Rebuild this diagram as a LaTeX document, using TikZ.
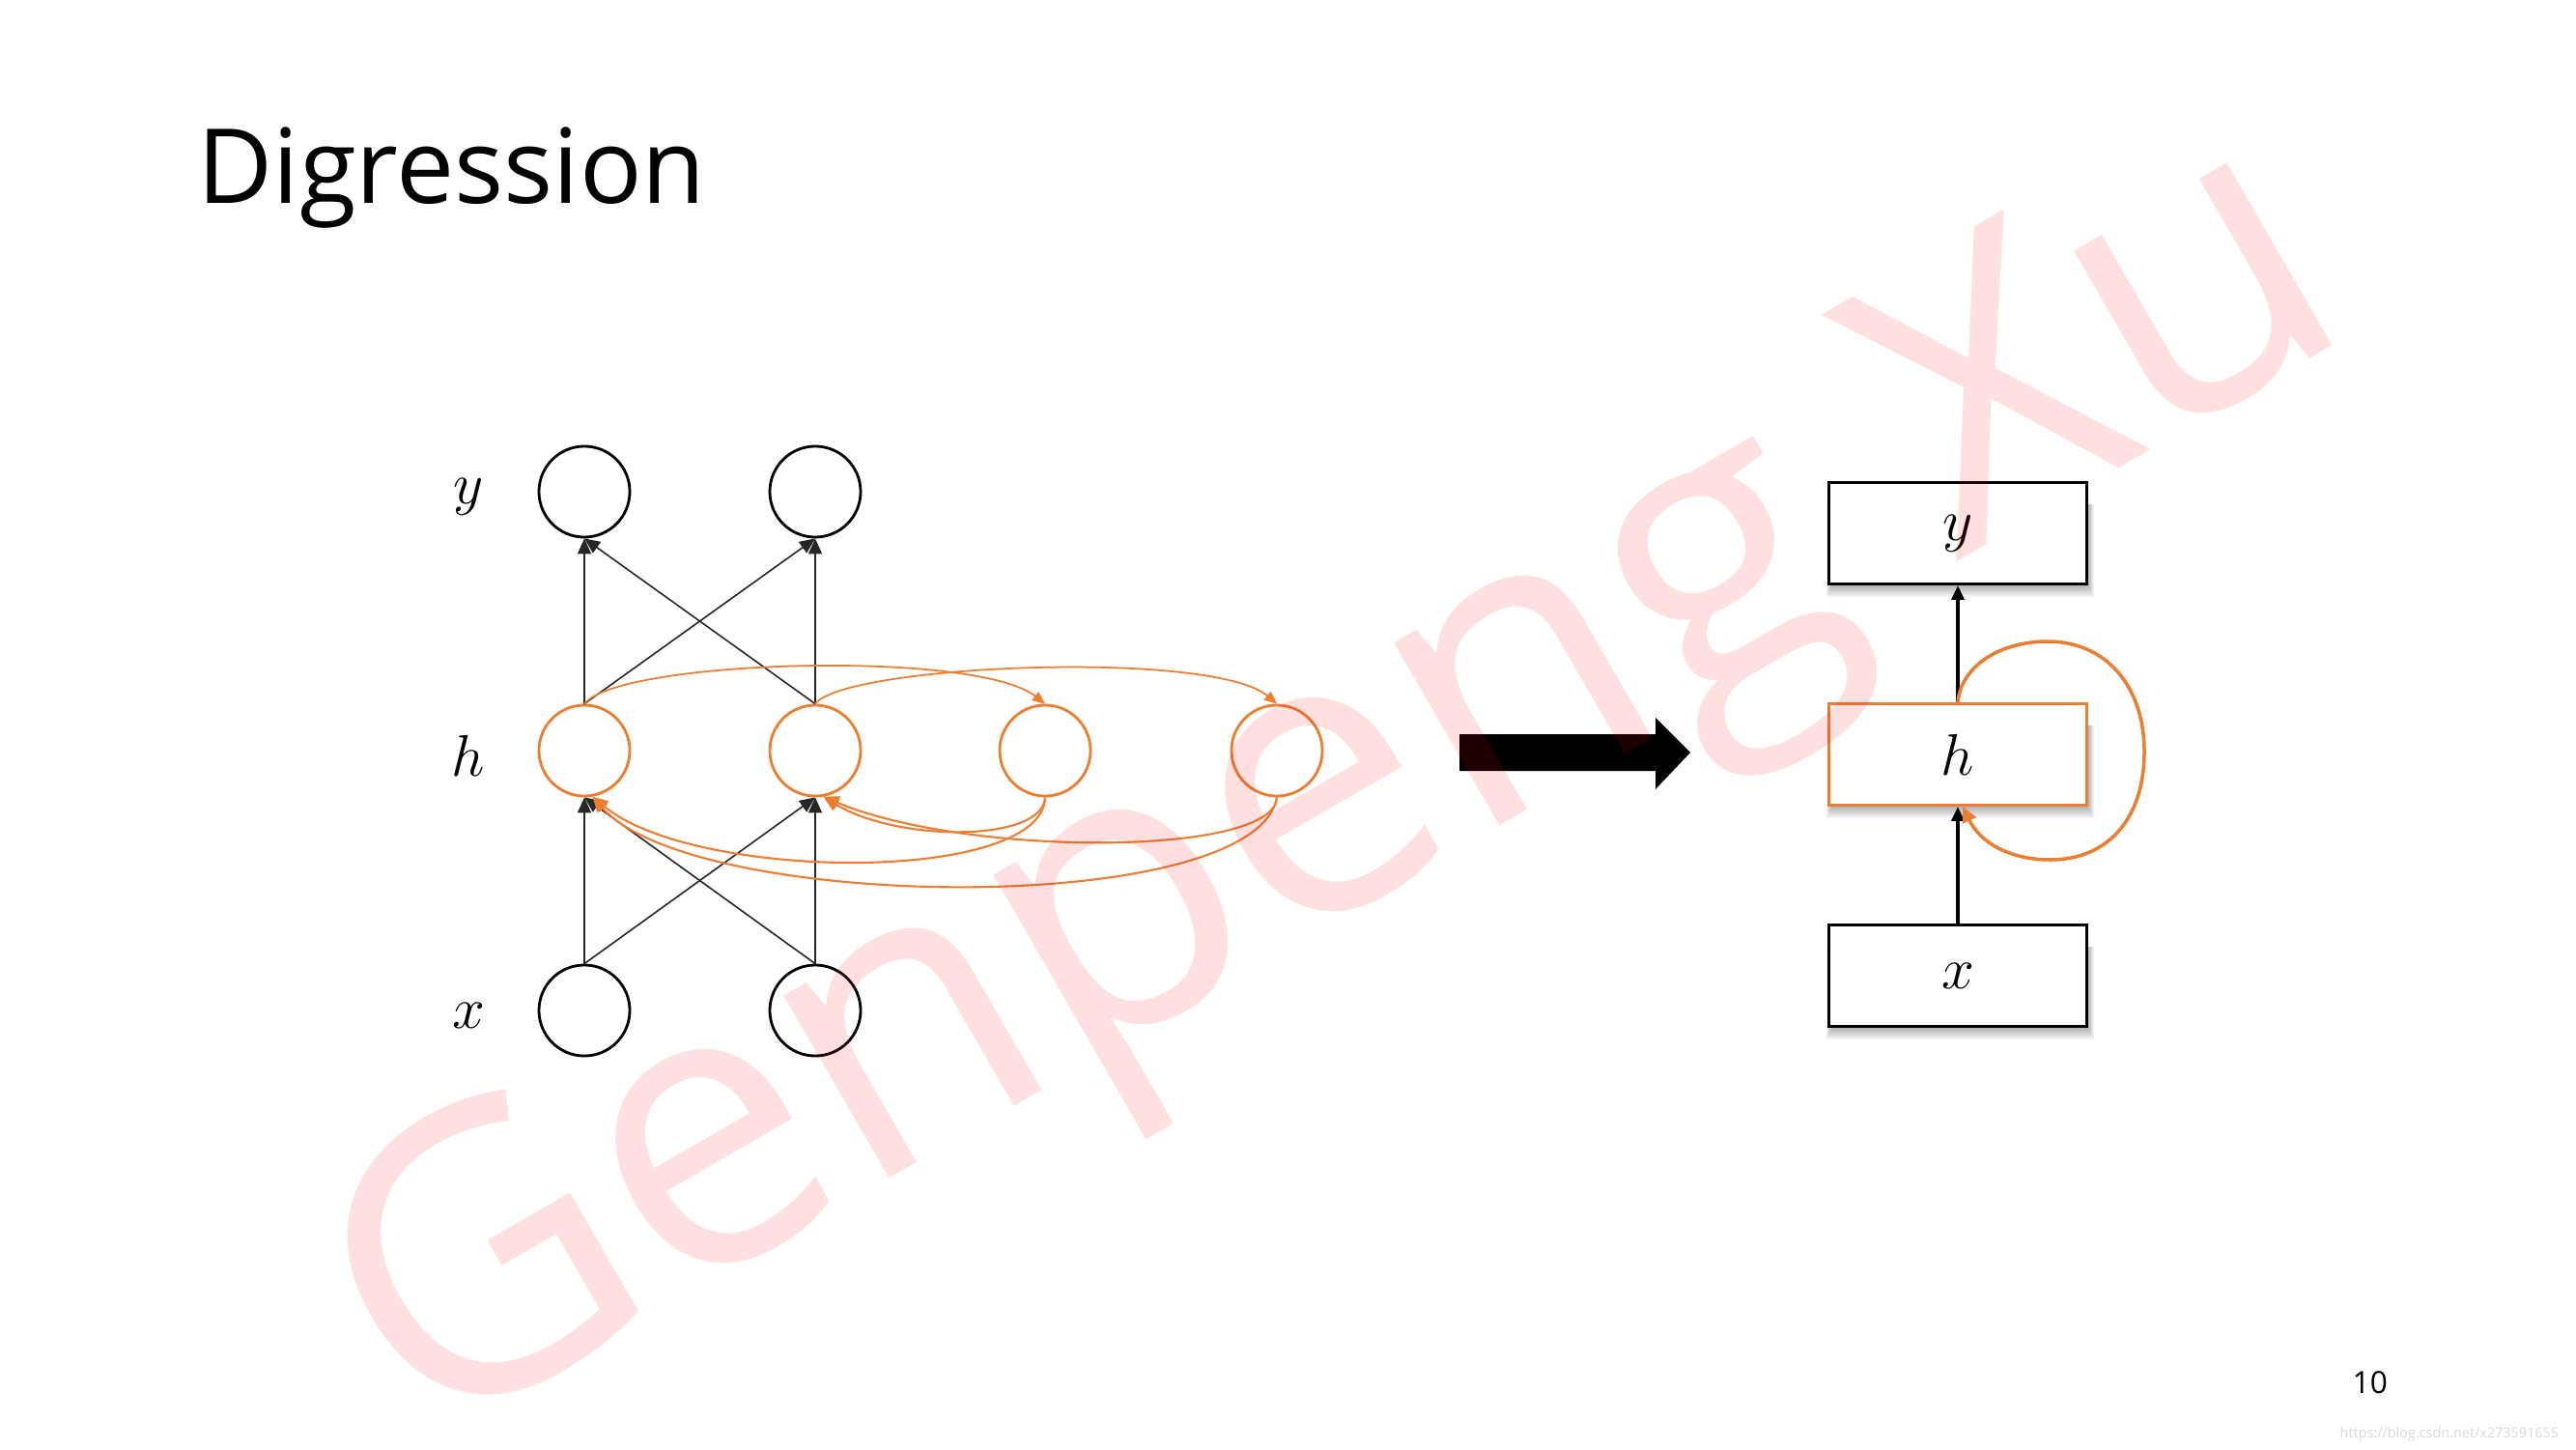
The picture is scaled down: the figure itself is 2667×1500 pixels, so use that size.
\documentclass[tikz,border=0pt]{standalone}
\usepackage{fontspec}
\setmainfont{Open Sans}
\usetikzlibrary{arrows.meta,calc}
\definecolor{orng}{HTML}{ED7D31}
\begin{document}
\begin{tikzpicture}[x=0.01cm,y=-0.01cm,
  neuron/.style={circle, draw=black, line width=0.8pt, minimum size=0.94cm, inner sep=0pt},
  hneuron/.style={neuron, draw=orng},
  conn/.style={draw=black!85, line width=0.45pt, -{Triangle[length=0.16cm,width=0.14cm]}},
  rec/.style={draw=orng, line width=0.5pt, -{Triangle[length=0.13cm,width=0.11cm]}},
  recb/.style={draw=orng, line width=0.6pt, -{Triangle[length=0.16cm,width=0.14cm]}},
  lab/.style={font=\fontsize{16}{19}\selectfont},
  boxnode/.style={rectangle, draw=black, line width=0.8pt, minimum width=2.67cm, minimum height=1.05cm, fill=white, inner sep=0pt, font=\fontsize{16}{19}\selectfont},
  shadowpart/.style={fill=black, opacity=0.05},
  bigarrow/.style={fill=black},
  watermark/.style={rotate=30, text=red, text opacity=0.12, font=\fontsize{116}{124}\selectfont}
]
\fill[white] (0,0) rectangle (2667,1500);
\useasboundingbox (0,0) rectangle (2667,1500);

% title and page number
\node[anchor=base west, font=\fontsize{30.5}{36}\selectfont, inner sep=0pt] (title) at (204,211) {Digression};
\node[anchor=base west, font=\fontsize{9}{10}\selectfont, inner sep=0pt] (pg) at (2435,1442) {10};
\node[anchor=base west, text=black!15, font=\fontsize{4.1}{5}\selectfont, inner sep=0pt] (url) at (2422,1488) {https://blog.csdn.net/x273591655};

% left network
\node[neuron] (y1) at (605,509) {};
\node[neuron] (y2) at (844,509) {};
\node[hneuron] (h1) at (605,777) {};
\node[hneuron] (h2) at (844,777) {};
\node[hneuron] (h3) at (1082,777) {};
\node[hneuron] (h4) at (1322,777) {};
\node[neuron] (x1) at (605,1046) {};
\node[neuron] (x2) at (844,1046) {};

\node[lab] (ly) at (485,514) {$y$};
\node[lab] (lh) at (485,782) {$h$};
\node[lab] (lx) at (485,1051) {$x$};

\foreach \s in {x1,x2} \foreach \t in {h1,h2} \draw[conn] (\s.north) -- (\t.south);
\foreach \s in {h1,h2} \foreach \t in {y1,y2} \draw[conn] (\s.north) -- (\t.south);

\draw[rec] (h1.north) .. controls (640,683) and (1010,672) .. (h3.north);
\draw[rec] (h2.north) .. controls (875,688) and (1255,672) .. (h4.north);
\draw[recb] (h3.south) .. controls (1080,872) and (930,872) .. (h2.-80);
\draw[recb] (h4.south) .. controls (1320,887) and (1000,887) .. (h2.-80);
\draw[recb] (h3.south) .. controls (1080,915) and (720,913) .. (h1.-80);
\draw[recb] (h4.south) .. controls (1300,950) and (720,945) .. (h1.-80);

% big arrow
\fill[bigarrow] (1511,760) -- (1714,760) -- (1714,743) -- (1750,779) -- (1714,817) -- (1714,798) -- (1511,798) -- cycle;

% right boxes shadows
\foreach \cy in {552,781,1010} {
  \foreach \k in {1,...,6} {
    \fill[shadowpart] (1897-\k,\cy-30) rectangle (2162+\k,\cy+54+2*\k);
  }
}
\node[boxnode] (yb) at (2027,552) {$y$};
\node[boxnode, draw=orng] (hb) at (2027,781) {$h$};
\node[boxnode] (xb) at (2027,1010) {$x$};

\draw[line width=1pt, -{Triangle[length=0.15cm,width=0.13cm]}] (xb.north) -- (hb.south);
\draw[line width=1pt, -{Triangle[length=0.15cm,width=0.13cm]}] (hb.north) -- (yb.south);
\draw[draw=orng, line width=1pt, -{Triangle[length=0.16cm,width=0.15cm]}] (hb.north)
  .. controls (2030,690) and (2070,664) .. (2120,664)
  .. controls (2180,664) and (2220,710) .. (2220,778)
  .. controls (2220,850) and (2180,890) .. (2123,890)
  .. controls (2080,890) and (2050,872) .. ([xshift=0.05cm]hb.south);

% watermark
\node[watermark, anchor=base, inner sep=0pt] (wm) at (1440,920) {Genpeng Xu};
\end{tikzpicture}
\end{document}
